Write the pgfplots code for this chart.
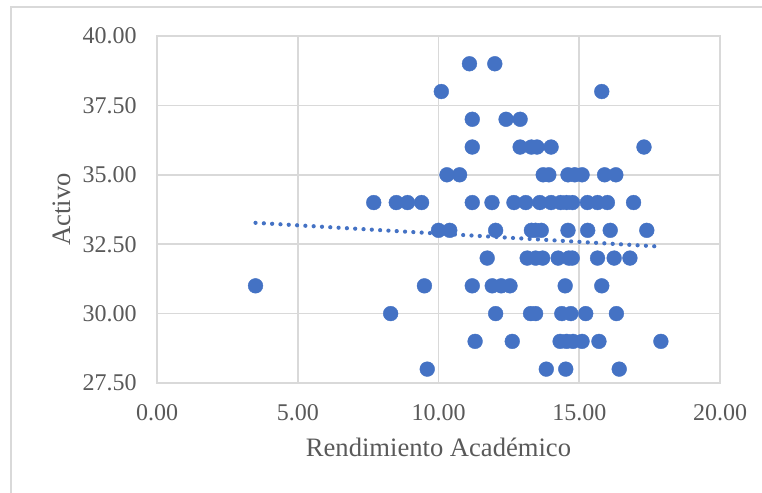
\documentclass[border=0pt]{standalone}
\usepackage{fontspec}
\setmainfont{Liberation Serif}
\usepackage{pgfplots}
\pgfplotsset{compat=1.18}
\definecolor{excelblue}{RGB}{68,114,196}
\definecolor{gridgray}{RGB}{217,217,217}
\definecolor{labelgray}{RGB}{89,89,89}

\begin{document}
\begin{tikzpicture}
% outer chart frame (cut off at right and bottom)
\draw[gridgray, line width=0.75bp] (-73bp,-70bp) -- (-73bp,188bp) -- (330bp,188bp);
\begin{axis}[
    scale only axis,
    width=281.5bp,
    height=173.5bp,
    xmin=0, xmax=20,
    ymin=27.5, ymax=40,
    xtick={0,5,10,15,20},
    ytick={27.5,30,32.5,35,37.5,40},
    tick style={draw=none},
    grid=major,
    grid style={gridgray, line width=0.8bp},
    axis line style={gridgray, line width=0.8bp},
    /pgf/number format/.cd, fixed, fixed zerofill, precision=2, assume math mode=true,
    /pgfplots/.cd,
    ticklabel style={font=\fontsize{12bp}{14bp}\selectfont, text=labelgray},
    xticklabel style={anchor=base, yshift=-18.5bp},
    yticklabel style={anchor=east, inner sep=0pt, xshift=-10bp},
    xlabel={Rendimiento Académico},
    ylabel={Activo},
    label style={font=\fontsize{13.3bp}{16bp}\selectfont, text=labelgray},
    xlabel style={at={(axis description cs:0.5,-0.2127)}, anchor=base},
    ylabel style={at={(axis description cs:-0.1545,0.5)}, anchor=base, rotate=0},
]
\addplot[only marks, color=excelblue, mark=*, mark size=3.7bp,
    mark options={fill=excelblue, draw=excelblue, line width=0.2bp}]
coordinates {
    (11.1,39) (12.0,39)
    (10.1,38) (15.8,38)
    (11.2,37) (12.4,37) (12.9,37)
    (11.2,36) (12.9,36) (13.3,36) (13.5,36) (14.0,36) (17.3,36)
    (10.3,35) (10.75,35) (13.72,35) (13.92,35) (14.6,35) (14.84,35) (15.1,35) (15.9,35) (16.3,35)
    (7.7,34) (8.5,34) (8.9,34) (9.4,34) (11.2,34) (11.9,34) (12.68,34) (13.1,34) (13.6,34)
    (14.0,34) (14.34,34) (14.55,34) (14.76,34) (15.29,34) (15.65,34) (16.0,34) (16.93,34)
    (10.0,33) (10.4,33) (12.03,33) (13.3,33) (13.45,33) (13.65,33) (14.6,33) (15.3,33) (16.1,33) (17.4,33)
    (11.73,32) (13.15,32) (13.45,32) (13.7,32) (14.25,32) (14.63,32) (14.75,32) (15.65,32) (16.24,32) (16.8,32)
    (3.5,31) (9.5,31) (11.2,31) (11.91,31) (12.23,31) (12.54,31) (14.5,31) (15.8,31)
    (8.3,30) (12.03,30) (13.27,30) (13.45,30) (14.38,30) (14.7,30) (15.23,30) (16.32,30)
    (11.3,29) (12.62,29) (14.32,29) (14.55,29) (14.78,29) (15.1,29) (15.7,29) (17.9,29)
    (9.6,28) (13.83,28) (14.52,28) (16.42,28)
};
% linear trendline
\addplot[excelblue, line width=2.1bp, line cap=round, dash pattern=on 0.01bp off 4.15bp]
coordinates {(3.5,33.27) (17.93,32.41)};
\end{axis}
\pgfresetboundingbox
\path[use as bounding box] (-78.5bp,-55bp) rectangle (302.5bp,191.5bp);
\end{tikzpicture}
\end{document}
